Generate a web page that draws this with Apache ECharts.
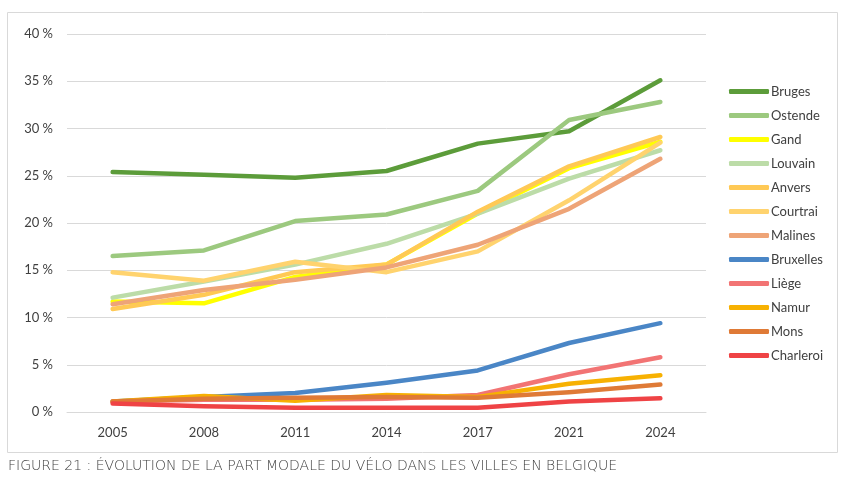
<!DOCTYPE html>
<html><head><meta charset="utf-8">
<script src="https://cdn.jsdelivr.net/npm/echarts@6/dist/echarts.min.js"></script>
<style>html,body{margin:0;padding:0;background:#fff}#c{width:847px;height:484px}</style>
</head><body><div id="c"></div>
<script>
const years = ['2005','2008','2011','2014','2017','2021','2024'];
const cities = ['Bruges','Ostende','Gand','Louvain','Anvers','Courtrai','Malines','Bruxelles','Liège','Namur','Mons','Charleroi'];
const bruges    = [25.4, 25.1, 24.8, 25.5, 28.4, 29.7, 35.1];
const ostende   = [16.5, 17.1, 20.2, 20.9, 23.4, 30.9, 32.8];
const gand      = [11.7, 11.5, 14.3, 15.6, 21.0, 25.8, 28.6];
const louvain   = [12.1, 13.8, 15.6, 17.8, 21.0, 24.7, 27.7];
const anvers    = [10.9, 12.4, 14.8, 15.6, 21.2, 26.0, 29.1];
const courtrai  = [14.8, 13.9, 15.9, 14.8, 17.0, 22.4, 28.5];
const malines   = [11.4, 12.9, 14.0, 15.3, 17.7, 21.5, 26.8];
const bruxelles = [1.1, 1.6, 2.0, 3.1, 4.4, 7.3, 9.4];
const liege     = [1.1, 1.3, 1.3, 1.4, 1.8, 4.0, 5.8];
const namur     = [1.1, 1.7, 1.2, 1.8, 1.6, 3.0, 3.9];
const mons      = [1.1, 1.4, 1.5, 1.6, 1.5, 2.1, 2.9];
const charleroi = [0.9, 0.6, 0.45, 0.45, 0.45, 1.1, 1.45];
const yTicks = [0,5,10,15,20,25,30,35,40];

const values = [bruges, ostende, gand, louvain, anvers, courtrai, malines, bruxelles, liege, namur, mons, charleroi];
const colors = ['#5c9c3a','#9cc97f','#ffff00','#bcdca8','#ffc955','#ffd36e','#eea477','#4a86c6','#f27474','#f7b102','#df7a36','#ef4345'];

const chart = echarts.init(document.getElementById('c'));
chart.setOption({
  animation: false,
  graphic: [
    {type:'rect', shape:{x:7.5, y:12.5, width:830, height:440}, style:{fill:'none', stroke:'#d9d9d9', lineWidth:1}, z:-1},
    {type:'text', left:8, top:459, style:{text:'FIGURE 21 : ÉVOLUTION DE LA PART MODALE DU VÉLO DANS LES VILLES EN BELGIQUE', fill:'#3f3f3f', font:'200 14px "DejaVu Sans"'}}
  ],
  legend: {
    orient:'vertical', left:724, top:80, itemWidth:40, itemHeight:5, itemGap:11,
    icon:'roundRect',
    textStyle:{fontFamily:'Lato', fontSize:13, color:'#404040', padding:[0,0,0,-3]},
    data: cities
  },
  grid: {left:67, right:141, top:34, bottom:72},
  xAxis: {
    type:'category', data: years, boundaryGap:true,
    axisLine:{show:true, lineStyle:{color:'#d9d9d9'}}, axisTick:{show:false},
    axisLabel:{color:'#404040', fontFamily:'Lato', fontSize:13, margin:14}
  },
  yAxis: {
    type:'value', min:0, max:40, interval:5,
    axisLine:{show:false}, axisTick:{show:false},
    splitLine:{lineStyle:{color:'#d9d9d9'}},
    axisLabel:{color:'#404040', fontFamily:'Lato', fontSize:13, margin:14, formatter: v => yTicks.includes(v) ? v + ' %' : ''}
  },
  series: cities.map((name,i)=>({
    name, type:'line', data: values[i], symbol:'none', smooth:false,
    lineStyle:{width:4.5, color:colors[i], cap:'round', join:'round'},
    itemStyle:{color:colors[i]}
  }))
});
</script></body></html>
